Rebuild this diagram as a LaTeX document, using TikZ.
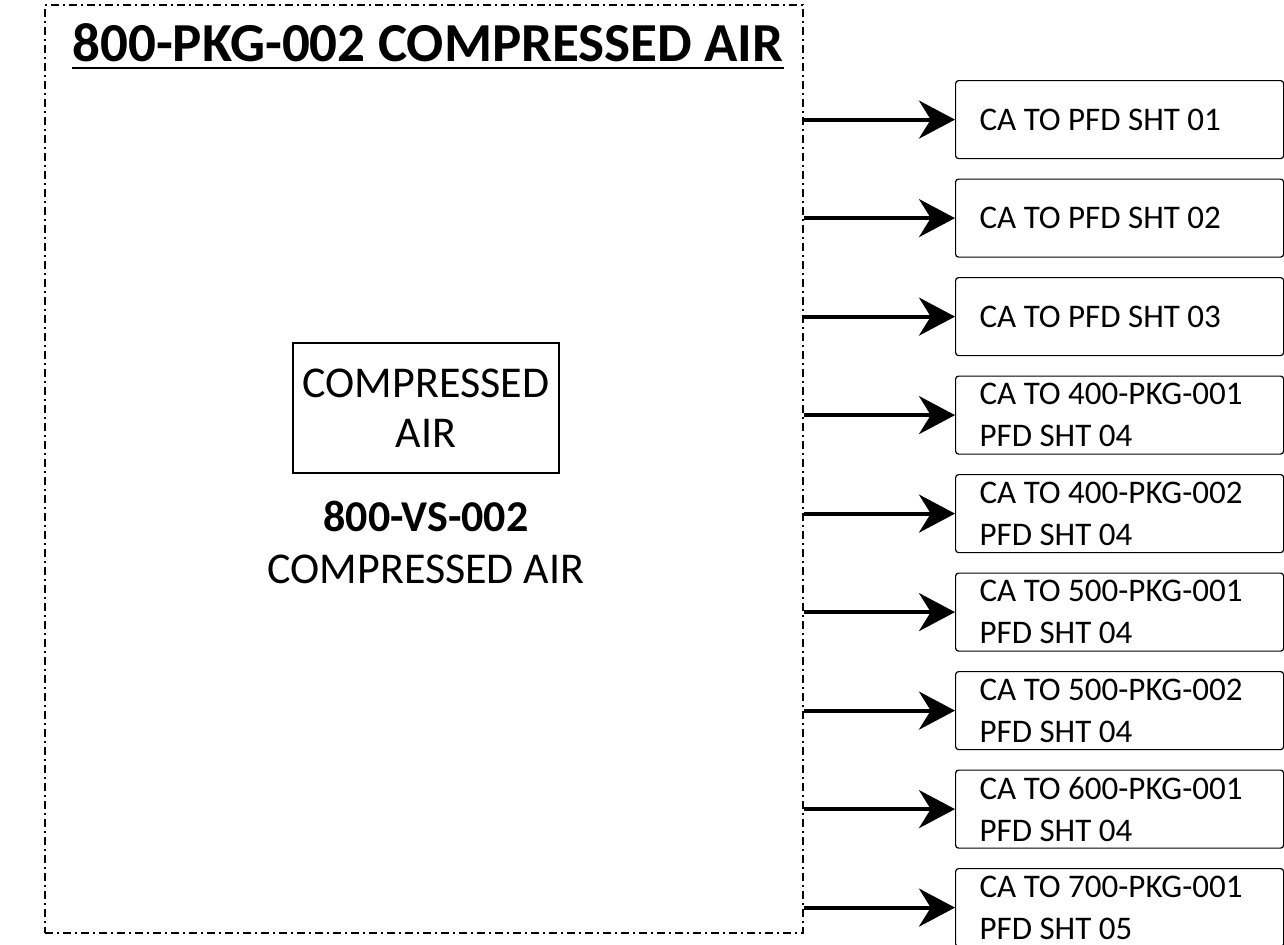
\documentclass[tikz,border=0pt]{standalone}
\usepackage{fontspec}
\setmainfont{Carlito}
\usetikzlibrary{arrows.meta,positioning}

\begin{document}
\begin{tikzpicture}[
    frame/.style={draw,line width=1pt,dash pattern=on 4pt off 2pt on 1pt off 2pt,minimum width=379pt,minimum height=464pt,inner sep=0pt},
    unit/.style={draw,line width=0.6pt,minimum width=133pt,minimum height=65pt,inner sep=0pt,align=center,font=\fontsize{22}{25}\selectfont},
    dest/.style={draw,line width=0.6pt,rounded corners=1.5pt,minimum height=39pt,text width=140pt,inner xsep=12pt,inner ysep=0pt,align=flush left,font=\fontsize{16.5}{21}\selectfont},
    feed/.style={-{Stealth[length=18pt,width=19pt]},line width=2pt}]
  \useasboundingbox (0,0) rectangle (642pt,-472pt);
  \node[frame] (pkg) at (212pt,-234.5pt) {};
  \node[anchor=base,inner sep=0pt,font=\bfseries\fontsize{27.5}{30}\selectfont] (title) at (214pt,-30.5pt) {800-PKG-002 COMPRESSED AIR};
  \draw[line width=1.4pt] ([yshift=-3.5pt]title.base west) -- ([yshift=-3.5pt]title.base east);
  \node[unit] (vs) at (213pt,-204pt) {COMPRESSED\\AIR};
  \node[below=13.5pt of vs,align=center,inner sep=0pt,font=\fontsize{22}{26}\selectfont] (tag) {\textbf{800-VS-002}\\COMPRESSED AIR};
  \node[dest,anchor=north west] (d1) at (477.5pt,-40pt) {CA TO PFD SHT 01};
  \node[dest,below=9.65pt of d1] (d2) {CA TO PFD SHT 02};
  \node[dest,below=9.65pt of d2] (d3) {CA TO PFD SHT 03};
  \node[dest,below=9.65pt of d3] (d4) {CA TO 400-PKG-001\\PFD SHT 04};
  \node[dest,below=9.65pt of d4] (d5) {CA TO 400-PKG-002\\PFD SHT 04};
  \node[dest,below=9.65pt of d5] (d6) {CA TO 500-PKG-001\\PFD SHT 04};
  \node[dest,below=9.65pt of d6] (d7) {CA TO 500-PKG-002\\PFD SHT 04};
  \node[dest,below=9.65pt of d7] (d8) {CA TO 600-PKG-001\\PFD SHT 04};
  \node[dest,below=9.65pt of d8] (d9) {CA TO 700-PKG-001\\PFD SHT 05};
  \draw[feed] (pkg.east |- d1.west) -- (d1.west);
  \draw[feed] (pkg.east |- d2.west) -- (d2.west);
  \draw[feed] (pkg.east |- d3.west) -- (d3.west);
  \draw[feed] (pkg.east |- d4.west) -- (d4.west);
  \draw[feed] (pkg.east |- d5.west) -- (d5.west);
  \draw[feed] (pkg.east |- d6.west) -- (d6.west);
  \draw[feed] (pkg.east |- d7.west) -- (d7.west);
  \draw[feed] (pkg.east |- d8.west) -- (d8.west);
  \draw[feed] (pkg.east |- d9.west) -- (d9.west);
\end{tikzpicture}
\end{document}
